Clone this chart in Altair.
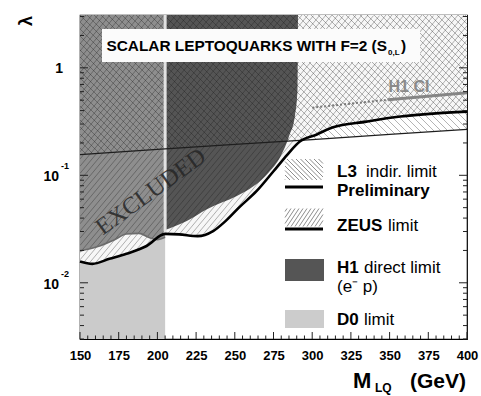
import numpy as np
import pandas as pd
import altair as alt

SANS = "Liberation Sans, Arial, sans-serif"
SERIF = "Liberation Serif, DejaVu Serif, serif"

# plot area (pixels) and axis ranges
W, H = 387, 324
M_LO, M_HI = 150, 400
L_LO, L_HI = 0.003, 3.1

# ZEUS limit (thick curve)
zeus_mass = [150, 158, 169, 180, 193, 205, 214, 226, 236, 244, 253, 264, 275, 284,
             292, 303, 313, 335, 357, 378, 400]
zeus_lambda = [0.0158, 0.0150, 0.0167, 0.0186, 0.0220, 0.0285, 0.0282, 0.0272, 0.0303,
               0.0375, 0.0506, 0.0711, 0.109, 0.156, 0.206, 0.240, 0.278, 0.316, 0.352,
               0.375, 0.391]

# L3 indirect limit (thin line)
l3_mass = [150, 200, 250, 300, 350, 400]
l3_lambda = [0.156, 0.174, 0.194, 0.215, 0.240, 0.267]

# H1 direct limit boundary inside the D0 band
h1_low_mass = [150, 161, 172, 180, 188, 195, 200, 205]
h1_low_lambda = [0.0198, 0.0216, 0.0250, 0.0284, 0.0288, 0.0262, 0.0252, 0.0265]

# H1 direct limit boundary above the D0 mass limit
h1_mass = [205, 219, 232, 242, 251, 262, 272, 279.5, 285, 289, 290.5]
h1_lambda = [0.031, 0.0375, 0.0484, 0.0562, 0.064, 0.079, 0.107, 0.150, 0.23, 0.367, 0.63]
h1_mass_max = 290.8

# H1 CI curve: dotted then solid
h1ci_dot_mass = [300, 349]
h1ci_dot_lambda = [0.426, 0.505]
h1ci_mass = [349, 400]
h1ci_lambda = [0.505, 0.587]

# D0 mass limit
d0_mass = 205

x_tick_values = [150, 175, 200, 225, 250, 275, 300, 325, 350, 375, 400]
y_decades = [0.01, 0.1]
y_decade_exps = ["-2", "-1"]

# ---- pixel <-> data helpers for the plot area ----
LOG_LO, LOG_HI = np.log10(L_LO), np.log10(L_HI)


def px_of(m):
    return (np.asarray(m, float) - M_LO) / (M_HI - M_LO) * W


def py_of(lam):
    return (LOG_HI - np.log10(np.asarray(lam, float))) / (LOG_HI - LOG_LO) * H


def m_of(px):
    return M_LO + np.asarray(px, float) / W * (M_HI - M_LO)


def lam_of(py):
    return 10 ** (LOG_HI - np.asarray(py, float) / H * (LOG_HI - LOG_LO))


def hatch(inside, slope, step, x0=0.0, x1=W, y0=0.0, y1=H):
    """Straight hatch strokes clipped to a region (slope>0 -> '/', slope<0 -> '\\')."""
    xs = np.arange(x0, x1 + 1e-9, 0.5)
    if slope > 0:
        c_lo, c_hi = y0 + slope * x0, y1 + slope * x1
    else:
        c_lo, c_hi = y0 + slope * x1, y1 + slope * x0
    spacing = step * abs(slope)
    cs = np.arange(np.floor(c_lo / spacing) * spacing, c_hi + spacing, spacing)
    rows = []
    for c in cs:
        ys = c - slope * xs
        mask = (ys >= y0) & (ys <= y1) & inside(xs, ys)
        idx = np.flatnonzero(mask)
        if idx.size < 2:
            continue
        cut = np.flatnonzero(np.diff(idx) > 1)
        starts = np.r_[idx[0], idx[cut + 1]]
        ends = np.r_[idx[cut], idx[-1]]
        for s, e in zip(starts, ends):
            if e > s:
                rows.append((xs[s], ys[s], xs[e], ys[e]))
    a = np.array(rows).reshape(-1, 4)
    return pd.DataFrame({"m1": m_of(a[:, 0]), "l1": lam_of(a[:, 1]),
                         "m2": m_of(a[:, 2]), "l2": lam_of(a[:, 3])})


zeus_px, zeus_py = px_of(zeus_mass), py_of(zeus_lambda)
l3_px, l3_py = px_of(l3_mass), py_of(l3_lambda)


def above_zeus(x, y):
    return y < np.interp(x, zeus_px, zeus_py)


def above_l3(x, y):
    return y < np.interp(x, l3_px, l3_py)


def everywhere(x, y):
    return np.ones_like(x, dtype=bool)


hatch_df = pd.concat([
    hatch(above_zeus, 1.2, 6.0),
    hatch(above_l3, -1.0, 7.0),
], ignore_index=True)

legend_hatch_df = pd.concat([
    hatch(everywhere, -1.0, 4.5, 205, 243, 144, 165),
    hatch(everywhere, 1.5, 4.0, 205, 243, 193, 212),
], ignore_index=True)

# ---- shared scales / encodings ----
xs = alt.Scale(domain=[M_LO, M_HI], nice=False, zero=False)
ys = alt.Scale(type="log", domain=[L_LO, L_HI], nice=False)
x_axis = alt.Axis(values=x_tick_values, labelFont=SANS, labelFontSize=13,
                  labelFontWeight="bold", labelColor="black", labelPadding=10,
                  labelFlush=False, ticks=False, domain=False, grid=False, title=None)


def X(field):
    return alt.X(field, type="quantitative", scale=xs, axis=x_axis)


def Y(field):
    return alt.Y(field, type="quantitative", scale=ys, axis=None)


one = pd.DataFrame({"k": [0]})


def text(t, x, y, size, weight="bold", align="left", color="black", font=SANS,
         baseline="alphabetic", angle=0, opacity=1.0):
    return alt.Chart(one).mark_text(
        text=t, align=align, baseline=baseline, fontSize=size, fontWeight=weight,
        font=font, color=color, angle=angle, opacity=opacity
    ).encode(x=alt.value(x), y=alt.value(y))


def box(x0, x1, y0, y1, color):
    return alt.Chart(one).mark_rect(color=color).encode(
        x=alt.value(x0), x2=alt.value(x1), y=alt.value(y0), y2=alt.value(y1))


def seg(x0, x1, y, width, color="black"):
    return alt.Chart(one).mark_rule(color=color, strokeWidth=width).encode(
        x=alt.value(x0), x2=alt.value(x1), y=alt.value(y))


layers = []

# D0 excluded band
d0_df = pd.DataFrame({"m0": [M_LO], "m1": [d0_mass], "l0": [L_LO], "l1": [L_HI]})
layers.append(alt.Chart(d0_df).mark_rect(color="#cbcbcb").encode(
    x=X("m0"), x2="m1", y=Y("l0"), y2="l1"))

# region above ZEUS curve
above_df = pd.DataFrame({"m": zeus_mass, "lo": zeus_lambda, "hi": L_HI})
layers.append(alt.Chart(above_df).mark_area(color="#f7f7f7", interpolate="monotone").encode(
    x=X("m"), y=Y("lo"), y2="hi"))

# H1 direct limit regions
h1_low_df = pd.DataFrame({"m": h1_low_mass, "lo": h1_low_lambda, "hi": L_HI})
layers.append(alt.Chart(h1_low_df).mark_area(color="#8e8e8e", interpolate="monotone").encode(
    x=X("m"), y=Y("lo"), y2="hi"))
h1_df = pd.DataFrame({"m": h1_mass + [h1_mass_max], "lo": h1_lambda + [L_HI], "hi": L_HI})
layers.append(alt.Chart(h1_df).mark_area(color="#555555", interpolate="monotone").encode(
    x=X("m"), y=Y("lo"), y2="hi"))

# hatching of the excluded regions
layers.append(alt.Chart(hatch_df).mark_rule(color="#1a1a1a", strokeWidth=0.6, opacity=0.55,
                                            clip=True).encode(
    x=X("m1"), y=Y("l1"), x2="m2", y2="l2"))

# D0 mass-limit edge
d0_edge = pd.DataFrame({"m": [d0_mass], "lo": [float(np.interp(d0_mass, zeus_mass, zeus_lambda))],
                        "hi": [L_HI]})
layers.append(alt.Chart(d0_edge).mark_rule(color="#e2e2e2", strokeWidth=3).encode(
    x=X("m"), y=Y("lo"), y2="hi"))

# H1 boundary inside the D0 band
layers.append(alt.Chart(pd.DataFrame({"m": h1_low_mass, "l": h1_low_lambda}))
              .mark_line(color="#6c6c6c", strokeWidth=1.6, interpolate="monotone")
              .encode(x=X("m"), y=Y("l")))

# L3 thin line
layers.append(alt.Chart(pd.DataFrame({"m": l3_mass, "l": l3_lambda}))
              .mark_line(color="#1e1e1e", strokeWidth=1.3)
              .encode(x=X("m"), y=Y("l")))

# ZEUS thick line
layers.append(alt.Chart(pd.DataFrame({"m": zeus_mass, "l": zeus_lambda}))
              .mark_line(color="black", strokeWidth=2.6, interpolate="monotone")
              .encode(x=X("m"), y=Y("l")))

# H1 CI
layers.append(alt.Chart(pd.DataFrame({"m": h1ci_dot_mass, "l": h1ci_dot_lambda}))
              .mark_line(color="#7a7a7a", strokeWidth=2, strokeDash=[2, 2])
              .encode(x=X("m"), y=Y("l")))
layers.append(alt.Chart(pd.DataFrame({"m": h1ci_mass, "l": h1ci_lambda}))
              .mark_line(color="#858585", strokeWidth=3)
              .encode(x=X("m"), y=Y("l")))
layers.append(text("H1 CI", 329, 77, 16, color="#8a8a8a", align="center"))

# EXCLUDED stamp
layers.append(text("EXCLUDED", 71, 177, 24, weight="normal", font=SERIF, align="center",
                   baseline="middle", angle=324, color="#262626", opacity=0.85))

# title box
layers.append(box(22, 340, 14, 47, "#fbfbfb"))
layers.append(text("SCALAR LEPTOQUARKS WITH F=2 (S", 307, 36, 15.4, align="right"))
layers.append(text("0,L", 308, 40, 8))
layers.append(text(")", 321, 36, 15.4))

# legend
layers.append(alt.Chart(legend_hatch_df).mark_rule(color="#222222", strokeWidth=0.7,
                                                   opacity=0.75).encode(
    x=X("m1"), y=Y("l1"), x2="m2", y2="l2"))
layers.append(seg(205, 243, 172, 3))
layers.append(seg(205, 243, 214, 3))
layers.append(box(205, 244, 244, 266, "#555555"))
layers.append(box(205, 244, 295, 313, "#cccccc"))
layers.append(text("L3", 257, 162, 17))
layers.append(text("indir. limit", 286, 162, 17, weight="normal"))
layers.append(text("Preliminary", 257, 181, 17))
layers.append(text("ZEUS", 257, 216, 17))
layers.append(text("limit", 308, 216, 17, weight="normal"))
layers.append(text("H1", 257, 258, 17))
layers.append(text("direct limit", 284, 258, 17, weight="normal"))
layers.append(text("(e\u207b p)", 257, 277, 17, weight="normal"))
layers.append(text("D0", 257, 310, 17))
layers.append(text("limit", 284, 310, 17, weight="normal"))

# inward ticks
x_minor = [v for v in range(M_LO, M_HI + 1, 5) if v not in x_tick_values]
layers.append(alt.Chart(pd.DataFrame({"m": x_tick_values})).mark_rule(color="#222", strokeWidth=1)
              .encode(x=X("m"), y=alt.value(H), y2=alt.value(H - 7)))
layers.append(alt.Chart(pd.DataFrame({"m": x_minor})).mark_rule(color="#222", strokeWidth=1)
              .encode(x=X("m"), y=alt.value(H), y2=alt.value(H - 3.5)))
y_major = [0.01, 0.1, 1]
y_minor = [k * d for d in [0.001, 0.01, 0.1, 1] for k in range(2, 10)
           if L_LO <= k * d <= L_HI]
for xa, xb_maj, xb_min in [(0, 8, 4), (W, W - 8, W - 4)]:
    layers.append(alt.Chart(pd.DataFrame({"l": y_major})).mark_rule(color="#222", strokeWidth=1)
                  .encode(y=Y("l"), x=alt.value(xa), x2=alt.value(xb_maj)))
    layers.append(alt.Chart(pd.DataFrame({"l": y_minor})).mark_rule(color="#222", strokeWidth=1)
                  .encode(y=Y("l"), x=alt.value(xa), x2=alt.value(xb_min)))

# y tick labels
layers.append(alt.Chart(pd.DataFrame({"l": [1]})).mark_text(
    text="1", align="right", baseline="middle", font=SANS, fontSize=14, fontWeight="bold",
    color="black", dy=1).encode(y=Y("l"), x=alt.value(-17)))
ylab_df = pd.DataFrame({"l": y_decades, "e": y_decade_exps})
layers.append(alt.Chart(ylab_df).mark_text(
    text="10", align="right", baseline="middle", font=SANS, fontSize=14, fontWeight="bold",
    color="black", dy=2).encode(y=Y("l"), x=alt.value(-21)))
layers.append(alt.Chart(ylab_df).mark_text(
    align="left", baseline="middle", font=SANS, fontSize=9, fontWeight="bold",
    color="black", dy=-9).encode(y=Y("l"), x=alt.value(-19), text="e:N"))

# axis titles
layers.append(text("\u03bb", -53, 6, 18, align="center", baseline="middle", angle=270))
layers.append(text("M", 273, 373, 22))
layers.append(text("LQ", 295, 377, 12))
layers.append(text("(GeV)", 386, 373, 21, align="right"))

chart = alt.layer(*layers).properties(
    width=W, height=H,
    autosize=alt.AutoSizeParams(type="none"),
    padding={"left": 80, "top": 15, "right": 14, "bottom": 57},
    background="white",
).configure_view(stroke="black", strokeWidth=1.2)

chart.save("out.html", embed_options={"renderer": "svg", "actions": False})
